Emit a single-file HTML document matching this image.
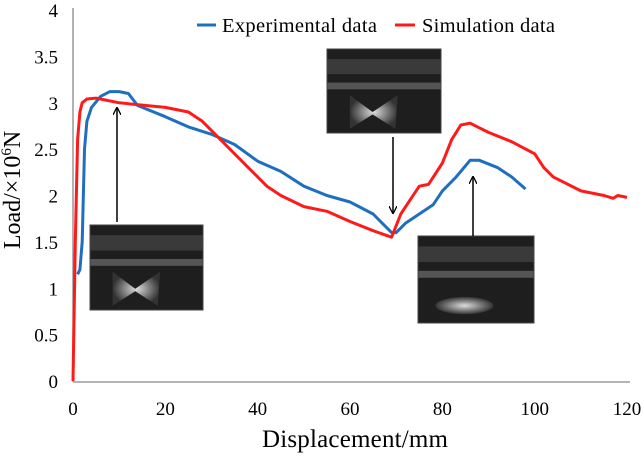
<!DOCTYPE html>
<html><head><meta charset="utf-8"><style>
body{margin:0;background:#fff;}
svg text{font-family:"Liberation Serif",serif;}
</style></head><body>
<svg id="chart" width="644" height="454" viewBox="0 0 644 454" xmlns="http://www.w3.org/2000/svg">
<defs>
<marker id="ah" markerWidth="8" markerHeight="8" refX="7" refY="4" orient="auto" markerUnits="userSpaceOnUse"><path d="M0,0 L8,4 L0,8" fill="none" stroke="#000" stroke-width="1.3"/></marker>
<radialGradient id="glow"><stop offset="0" stop-color="#ddd"/><stop offset="1" stop-color="#333"/></radialGradient>
</defs>
<g id="axes"></g>
<g id="series"></g>
<g id="annot"></g>
<g>
<line x1="197" y1="25" x2="216" y2="25" stroke="#1f6fc0" stroke-width="3"/>
<text x="222" y="32" font-size="20.5" textLength="155">Experimental data</text>
<line x1="395" y1="25" x2="415" y2="25" stroke="#ff1a1a" stroke-width="3"/>
<text x="422" y="32" font-size="20.5" textLength="133">Simulation data</text>
</g>
<text x="355" y="447" font-size="25" text-anchor="middle" textLength="186">Displacement/mm</text>
<text transform="translate(20,190) rotate(-90)" font-size="24" text-anchor="middle">Load/×10<tspan font-size="15" dy="-9">6</tspan><tspan dy="9">N</tspan></text>
</svg>
<script>
const xTicks=[0,20,40,60,80,100,120];
const yTicks=[0,0.5,1,1.5,2,2.5,3,3.5,4];
const yTickLabels=["0","0.5","1","1.5","2","2.5","3","3.5","4"];
const expX=[1,1.5,2,2.5,3,4,6,8,10,12,14,20,25,30,35,40,45,50,55,60,65,69,70,72,75,78,80,83,86,88,92,95,98];
const expY=[1.15,1.2,1.5,2.5,2.8,2.95,3.07,3.12,3.12,3.1,2.97,2.85,2.74,2.66,2.55,2.37,2.26,2.1,2.0,1.93,1.8,1.6,1.6,1.7,1.8,1.9,2.05,2.2,2.38,2.38,2.3,2.2,2.07];
const simX=[0,0.5,1,1.5,2,3,5,10,20,25,28,32,35,38,42,45,50,55,60,65,69,71,73,75,77,80,82,84,86,88,90,95,100,102,104,106,110,115,117,118,120];
const simY=[0,1.5,2.6,2.9,3.0,3.04,3.05,3.0,2.95,2.9,2.8,2.6,2.45,2.3,2.1,2.0,1.88,1.83,1.72,1.62,1.55,1.8,1.95,2.1,2.12,2.35,2.6,2.76,2.78,2.73,2.68,2.58,2.45,2.3,2.2,2.15,2.05,2.0,1.97,2.0,1.98];
const NS="http://www.w3.org/2000/svg";
const X=v=>73+v*4.617, Y=v=>381-v*92.75;
function mk(tag,attrs,parent){const e=document.createElementNS(NS,tag);for(const k in attrs)e.setAttribute(k,attrs[k]);parent.appendChild(e);return e;}
const axes=document.getElementById('axes');
let e=mk('line',{x1:73,y1:Y(4)-2,x2:73,y2:382,stroke:'#888','stroke-width':1.3},axes);


e=mk('line',{x1:73,y1:382,x2:630,y2:382,stroke:'#888','stroke-width':1.3},axes);


xTicks.forEach(t=>{const tx=mk('text',{x:X(t),y:415,'font-size':19,'text-anchor':'middle'},axes);tx.textContent=t;

});
yTicks.forEach((t,i)=>{const tx=mk('text',{x:58,y:Y(t)+7,'font-size':19,'text-anchor':'end'},axes);tx.textContent=yTickLabels[i];

});
const ser=document.getElementById('series');
function line(xs,ys,col,name){const d=xs.map((x,i)=>(i?'L':'M')+X(x).toFixed(1)+','+Y(ys[i]).toFixed(1)).join(' ');
const p=mk('path',{d:d,fill:'none',stroke:col,'stroke-width':3,'stroke-linejoin':'round'},ser);

}
line(expX,expY,'#1f6fc0','experimental-series');
line(simX,simY,'#ff1a1a','simulation-series');
const an=document.getElementById('annot');
function photo(x,y,w,h,name,crushed){const g=mk('g',{},an);


mk('rect',{x:x,y:y,width:w,height:h,fill:'#1e1e1e'},g);
mk('rect',{x:x,y:y+h*0.12,width:w,height:h*0.18,fill:'#3a3a3a'},g);
mk('rect',{x:x,y:y+h*0.4,width:w,height:h*0.08,fill:'#555'},g);
if(crushed){mk('ellipse',{cx:x+w*0.4,cy:y+h*0.8,rx:w*0.25,ry:h*0.1,fill:'url(#glow)'},g);}
else{mk('path',{d:`M${x+w*0.2},${y+h*0.55} L${x+w*0.4},${y+h*0.75} L${x+w*0.62},${y+h*0.55} L${x+w*0.6},${y+h*0.95} L${x+w*0.4},${y+h*0.78} L${x+w*0.2},${y+h*0.95} Z`,fill:'url(#glow)'},g);}
mk('rect',{x:x,y:y,width:w,height:h,fill:'none',stroke:'#444','stroke-width':1},g);}
photo(90,225,113,85,'photo-initial',false);
photo(327,49,114,84,'photo-middle',false);
photo(418,236,116,87,'photo-final',true);
function arrow(x1,y1,x2,y2,name){const a=mk('line',{x1:x1,y1:y1,x2:x2,y2:y2,stroke:'#000','stroke-width':1.5,'marker-end':'url(#ah)'},an);

}
arrow(117,222,117,108,'arrow-initial');
arrow(393,137,393,213,'arrow-middle');
arrow(473,236,473,177,'arrow-final');
</script>
</body></html>
